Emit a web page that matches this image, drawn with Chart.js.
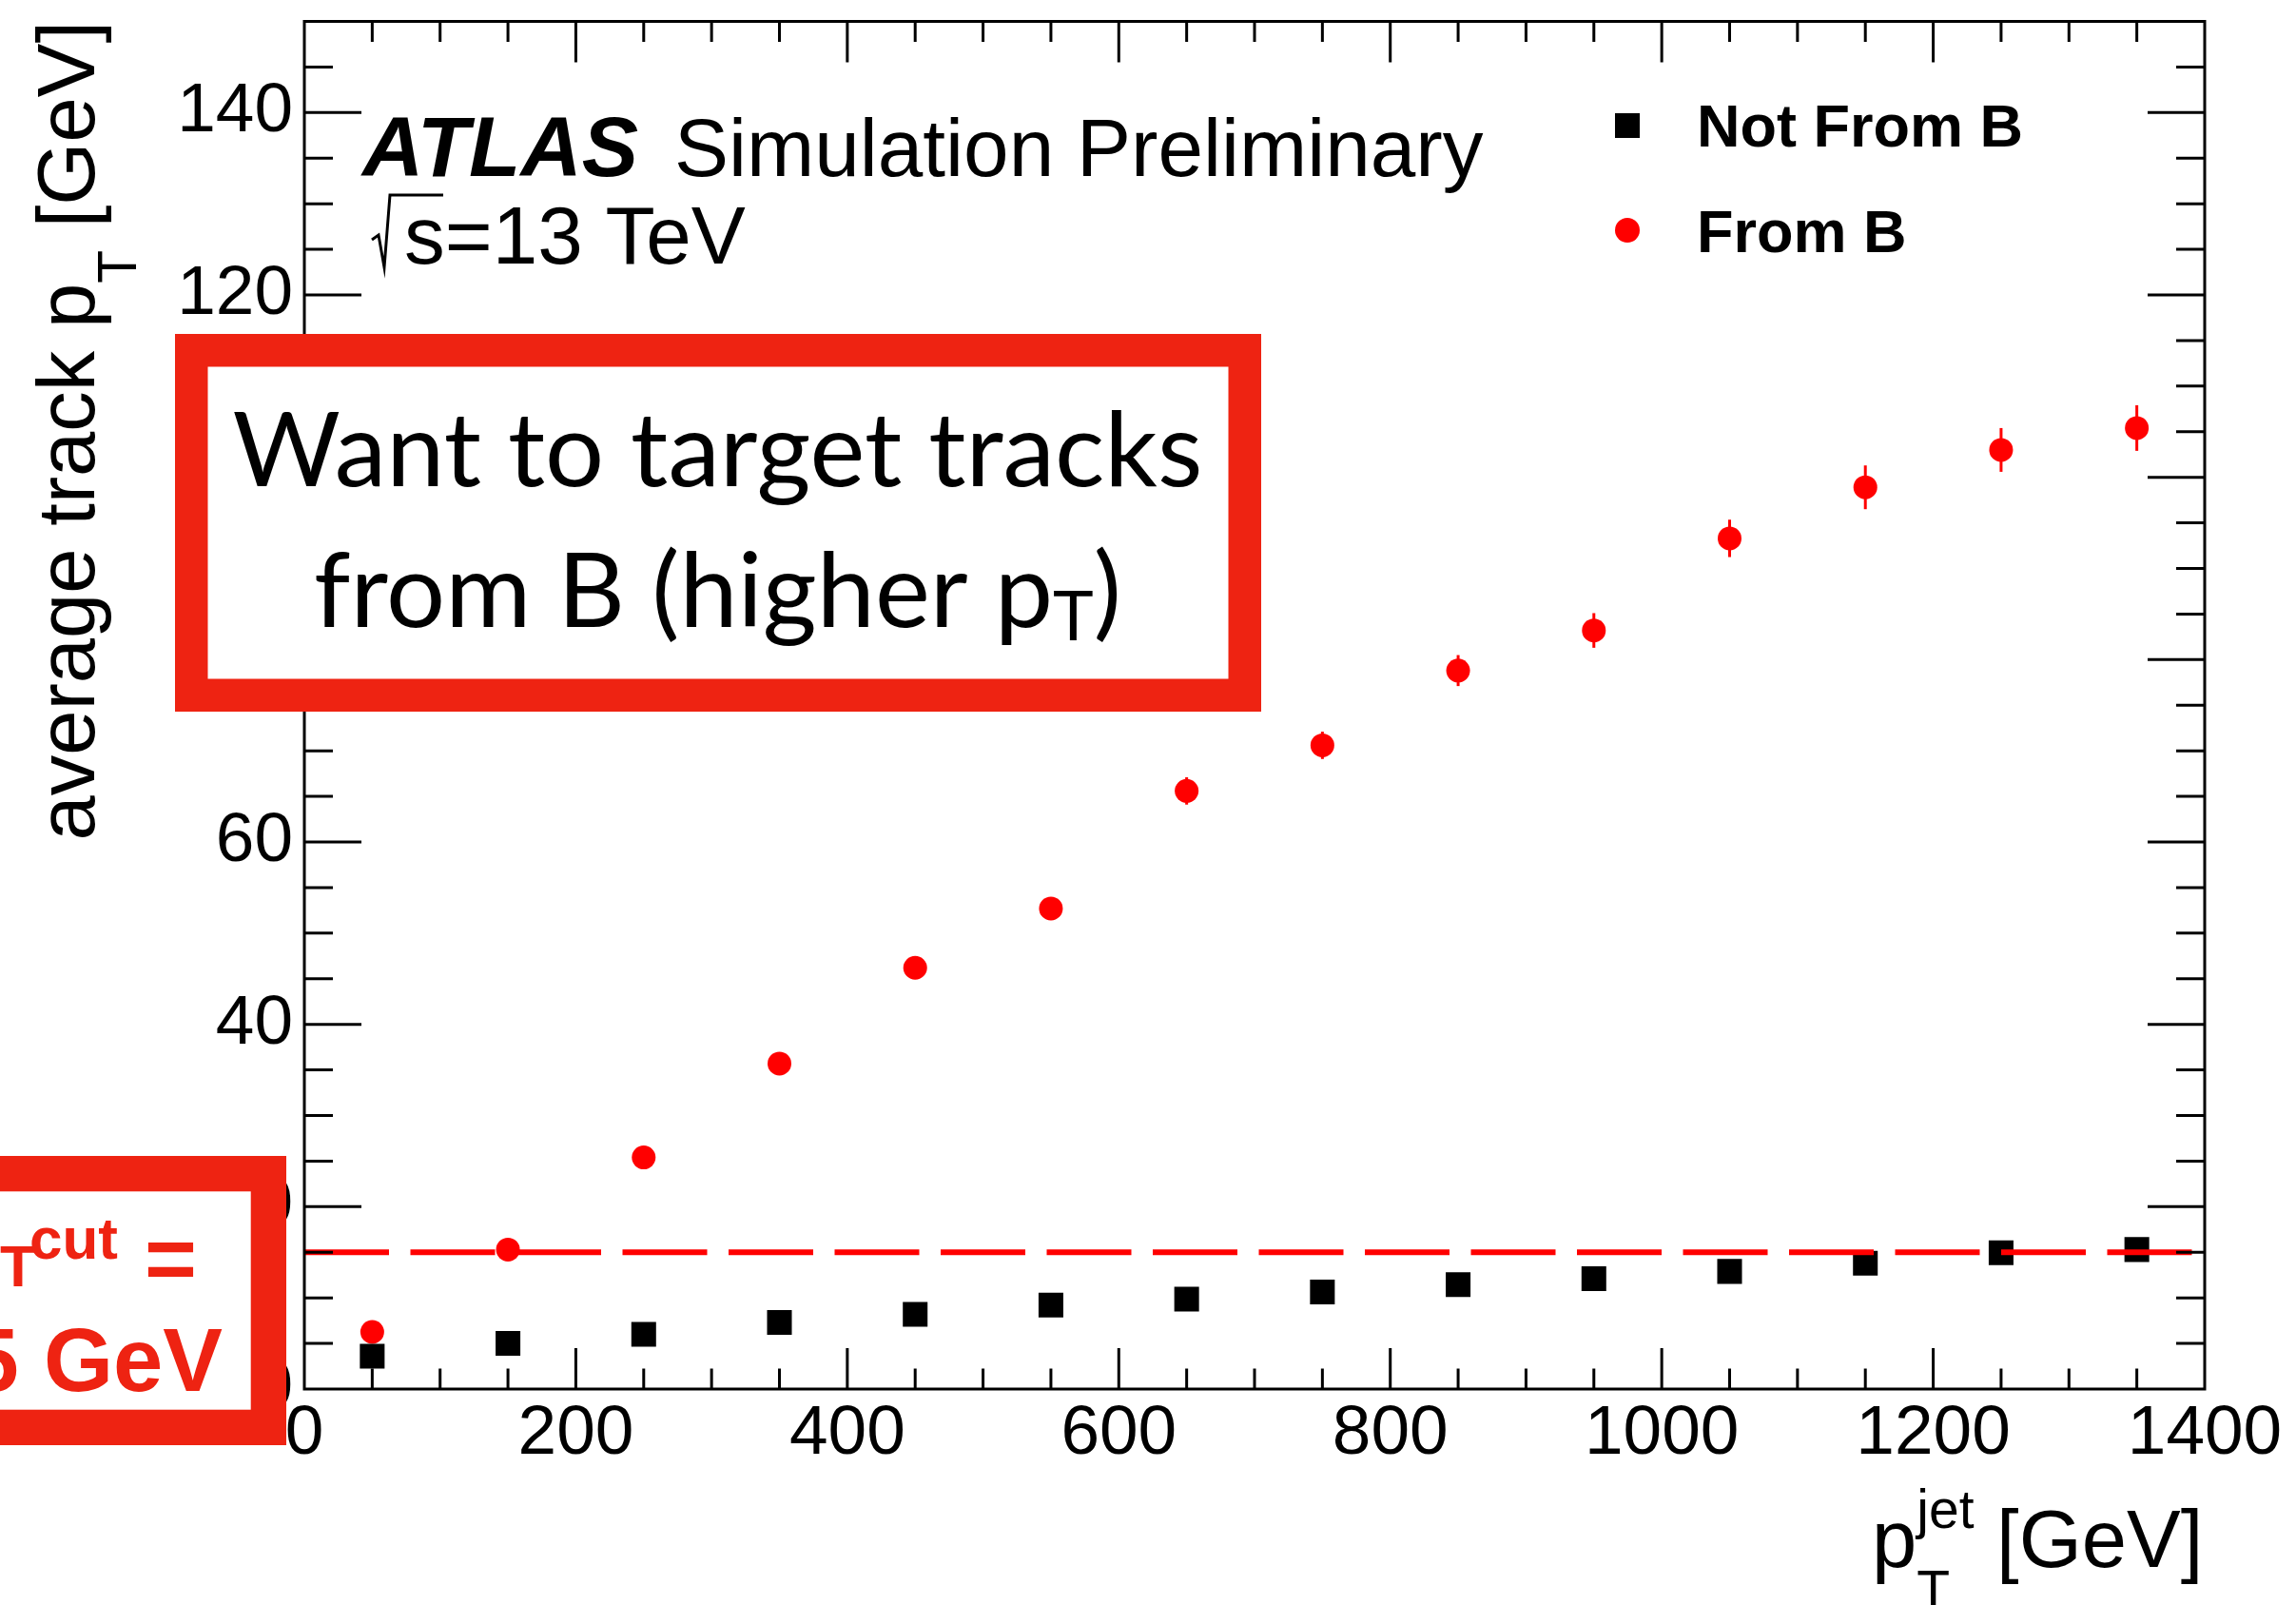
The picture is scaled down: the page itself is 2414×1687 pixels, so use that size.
<!DOCTYPE html>
<html>
<head>
<meta charset="utf-8">
<script src="https://cdn.jsdelivr.net/npm/chart.js@4/dist/chart.umd.min.js"></script>
<style>
html,body{margin:0;padding:0;background:#fff;overflow:hidden}
canvas{display:block}
</style>
</head>
<body>
<canvas id="c" width="2414" height="1687"></canvas>
<script>
// ---- data ----
const jetPtBins = [50,150,250,350,450,550,650,750,850,950,1050,1150,1250,1350];
const notFromB  = [3.6,5.0,6.0,7.3,8.2,9.2,9.85,10.65,11.45,12.1,12.9,13.8,14.95,15.3];
const fromB     = [6.26,15.3,25.4,35.7,46.2,52.7,65.6,70.6,78.8,83.2,93.3,98.9,103.0,105.4];
const fromBErr  = [0.2,0.3,0.4,0.5,0.7,0.9,1.5,1.5,1.7,1.9,2.05,2.4,2.4,2.5];
const xTicks = [0,200,400,600,800,1000,1200,1400];
const xTickLabels = ['0','200','400','600','800','1000','1200','1400'];
const yTicks = [0,20,40,60,80,100,120,140];
const yTickLabels = ['0','20','40','60','80','100','120','140'];
const ptCut = 15;
const seriesNames = ['Not From B','From B'];

const FONT = '"Liberation Sans", Arial, Helvetica, sans-serif';
const BOXRED = '#ee2312';

const overlay = {
  id: 'overlay',
  beforeDatasetsDraw(chart) {
    const {ctx, scales:{x, y}} = chart;
    ctx.save();
    ctx.strokeStyle = '#ff0000';
    ctx.lineWidth = 3;
    jetPtBins.forEach((b, i) => {
      const px = x.getPixelForValue(b);
      ctx.beginPath();
      ctx.moveTo(px, y.getPixelForValue(fromB[i] - fromBErr[i]));
      ctx.lineTo(px, y.getPixelForValue(fromB[i] + fromBErr[i]));
      ctx.stroke();
    });
    ctx.restore();
  },
  afterDatasetsDraw(chart) {
    const {ctx, scales:{x, y}} = chart;
    ctx.save();
    ctx.strokeStyle = '#ff0000';
    ctx.lineWidth = 6;
    ctx.setLineDash([89, 22.5]);
    const py = y.getPixelForValue(ptCut);
    ctx.beginPath();
    ctx.moveTo(x.getPixelForValue(x.min), py);
    ctx.lineTo(x.getPixelForValue(x.max), py);
    ctx.stroke();
    ctx.restore();
  },
  afterDraw(chart) {
    const {ctx, chartArea:a, scales:{x, y}} = chart;
    ctx.save();
    // frame
    ctx.strokeStyle = '#000';
    ctx.lineWidth = 3;
    ctx.strokeRect(a.left, a.top, a.right - a.left, a.bottom - a.top);
    // tick marks (inside, all four sides)
    ctx.lineWidth = 3;
    ctx.beginPath();
    for (let v = x.min + 50; v < x.max; v += 50) {
      const px = x.getPixelForValue(v);
      const len = (v % 200 === 0) ? 43 : 21.5;
      ctx.moveTo(px, a.bottom); ctx.lineTo(px, a.bottom - len);
      ctx.moveTo(px, a.top); ctx.lineTo(px, a.top + len);
    }
    for (let v = y.min + 5; v < y.max; v += 5) {
      const py = y.getPixelForValue(v);
      const len = (v % 20 === 0) ? 60 : 30;
      ctx.moveTo(a.left, py); ctx.lineTo(a.left + len, py);
      ctx.moveTo(a.right, py); ctx.lineTo(a.right - len, py);
    }
    ctx.stroke();

    ctx.fillStyle = '#000';
    ctx.textBaseline = 'alphabetic';
    ctx.textAlign = 'left';
    const fMain = '85px ' + FONT, fSub = '57px ' + FONT;

    // y-axis title (rotated)
    ctx.save();
    ctx.translate(99, 22);
    ctx.rotate(-Math.PI / 2);
    ctx.font = fMain; const w1 = ctx.measureText('average track p').width;
    ctx.font = fSub;  const w2 = ctx.measureText('T').width;
    ctx.font = fMain; const w3 = ctx.measureText(' [GeV]').width;
    let xx = -(w1 + w2 + w3);
    ctx.font = fMain; ctx.fillText('average track p', xx, 0); xx += w1;
    ctx.font = fSub;  ctx.fillText('T', xx, 44); xx += w2;
    ctx.font = fMain; ctx.fillText(' [GeV]', xx, 0);
    ctx.restore();

    // x-axis title
    {
      let xp = 1968; const base = 1647;
      ctx.font = fMain; ctx.fillText('p', xp, base); xp += ctx.measureText('p').width;
      ctx.font = fSub;
      ctx.fillText('T', xp, base + 44);
      ctx.fillText('jet', xp, base - 41);
      xp += Math.max(ctx.measureText('jet').width, ctx.measureText('T').width);
      ctx.font = fMain; ctx.fillText(' [GeV]', xp, base);
    }

    // ATLAS label
    ctx.font = 'italic bold 89px ' + FONT;
    ctx.fillText('ATLAS', 381, 185);
    ctx.font = '85.5px ' + FONT;
    ctx.fillText('Simulation Preliminary', 709, 185);
    ctx.fillText('s=13 TeV', 425, 277);
    ctx.lineWidth = 3;
    ctx.beginPath();
    ctx.moveTo(391, 252); ctx.lineTo(398, 247); ctx.lineTo(404, 281);
    ctx.lineTo(410, 205); ctx.lineTo(466, 205);
    ctx.stroke();

    // legend
    ctx.fillStyle = '#000';
    ctx.fillRect(1711 - 13, 132 - 13, 26, 26);
    ctx.fillStyle = '#ff0000';
    ctx.beginPath(); ctx.arc(1711, 242, 13, 0, Math.PI * 2); ctx.fill();
    ctx.fillStyle = '#000';
    ctx.font = 'bold 63px ' + FONT;
    ctx.fillText(seriesNames[0], 1784, 154);
    ctx.fillText(seriesNames[1], 1784, 265);

    // annotation boxes
    function box(x0, y0, x1, y1, t) {
      ctx.fillStyle = BOXRED;
      ctx.fillRect(x0, y0, x1 - x0, y1 - y0);
      ctx.fillStyle = '#fff';
      ctx.fillRect(x0 + t, y0 + t, x1 - x0 - 2 * t, y1 - y0 - 2 * t);
    }
    box(184, 351, 1326, 748, 34.5);
    box(-100, 1215, 301, 1519, 37.3);

    // box 1 text
    ctx.fillStyle = '#000';
    const bf = 'Lato, "Open Sans", sans-serif';
    const bw = '400 ';
    ctx.font = bw + '108px ' + bf;
    let fs = 108 * 1020 / ctx.measureText('Want to target tracks').width;
    ctx.font = bw + fs + 'px ' + bf;
    ctx.textAlign = 'center';
    ctx.fillText('Want to target tracks', 754.5, 511);
    ctx.textAlign = 'left';
    {
      const a1 = 'from B (higher p', a3 = ')';
      const fsT = fs * 0.66;
      ctx.font = bw + fs + 'px ' + bf; const wa = ctx.measureText(a1).width, wc = ctx.measureText(a3).width;
      ctx.font = bw + fsT + 'px ' + bf; const wb = ctx.measureText('T').width;
      let sx = 754.5 - (wa + wb + wc) / 2;
      ctx.font = bw + fs + 'px ' + bf; ctx.fillText(a1, sx, 659); sx += wa;
      ctx.font = bw + fsT + 'px ' + bf; ctx.fillText('T', sx, 673); sx += wb;
      ctx.font = bw + fs + 'px ' + bf; ctx.fillText(a3, sx, 659);
    }

    // box 2 text
    ctx.fillStyle = BOXRED;
    ctx.font = 'bold 94px ' + FONT;
    ctx.fillText('p', -58, 1355);
    ctx.font = 'bold 62px ' + FONT;
    ctx.fillText('T', 0, 1352);
    ctx.fillText('cut', 31, 1323);
    ctx.font = 'bold 94px ' + FONT;
    ctx.fillText('=', 152, 1355);
    ctx.textAlign = 'right';
    ctx.fillText(ptCut + ' GeV', 234, 1462);
    ctx.restore();
  }
};

new Chart(document.getElementById('c'), {
  type: 'scatter',
  data: {
    datasets: [
      {
        label: seriesNames[0],
        data: jetPtBins.map((b, i) => ({x: b, y: notFromB[i]})),
        pointStyle: 'rect',
        pointRadius: 18.4,
        pointBorderWidth: 0,
        backgroundColor: '#000',
        borderColor: '#000',
        showLine: false
      },
      {
        label: seriesNames[1],
        data: jetPtBins.map((b, i) => ({x: b, y: fromB[i]})),
        pointStyle: 'circle',
        pointRadius: 12.5,
        pointBorderWidth: 0,
        backgroundColor: '#ff0000',
        borderColor: '#ff0000',
        showLine: false
      }
    ]
  },
  options: {
    responsive: false,
    animation: false,
    events: [],
    layout: {padding: {top: 22.5, right: 96, bottom: 0, left: 0}},
    plugins: {legend: {display: false}, tooltip: {enabled: false}},
    scales: {
      x: {
        type: 'linear', min: 0, max: 1400,
        grid: {display: false, drawTicks: false},
        border: {display: false},
        afterBuildTicks: (s) => { s.ticks = xTicks.map(v => ({value: v})); },
        afterFit: (s) => { s.height = 227; s.paddingLeft = 0; s.paddingRight = 0; },
        ticks: {
          autoSkip: false, maxRotation: 0, padding: 4, color: '#000',
          font: {family: FONT, size: 73},
          callback: (v) => xTickLabels[xTicks.indexOf(v)]
        }
      },
      y: {
        type: 'linear', min: 0, max: 150,
        grid: {display: false, drawTicks: false},
        border: {display: false},
        afterBuildTicks: (s) => { s.ticks = yTicks.map(v => ({value: v})); },
        afterFit: (s) => { s.width = 320; s.paddingTop = 0; s.paddingBottom = 0; },
        ticks: {
          autoSkip: false, padding: 12, color: '#000',
          font: {family: FONT, size: 73},
          callback: (v) => yTickLabels[yTicks.indexOf(v)]
        }
      }
    }
  },
  plugins: [overlay]
});
</script>
</body>
</html>
